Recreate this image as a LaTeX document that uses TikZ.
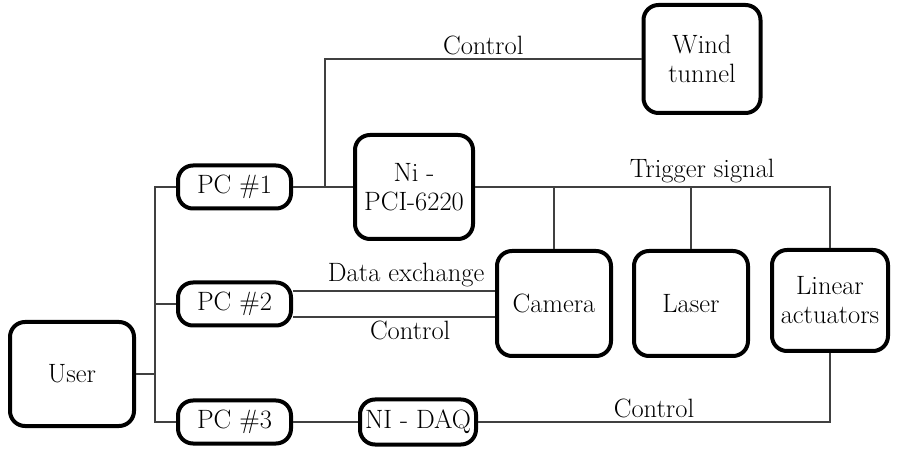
\documentclass[tikz,border=0pt]{standalone}
\usepackage{fontspec}
\usetikzlibrary{positioning, calc}

\tikzset{
  blk/.style={draw, line width=4pt, rounded corners=15pt, align=center,
    font=\fontsize{26.5}{29}\selectfont, minimum width=114pt, minimum height=105pt},
  pcblk/.style={blk, minimum width=113pt, minimum height=43pt},
  wire/.style={draw=black!75, line width=1.1pt},
  lbl/.style={font=\fontsize{26.5}{29}\selectfont}
}

\begin{document}
\begin{tikzpicture}[x=1pt, y=-1pt]
  \useasboundingbox (0,0) rectangle (898,449);

  \node[blk, minimum width=124pt, minimum height=104pt] (user) at (72,374) {User};
  \node[pcblk] (pc1) at (234.5,187) {PC \#1};
  \node[pcblk] (pc2) at (234.5,304) {PC \#2};
  \node[pcblk] (pc3) at (234.5,422) {PC \#3};
  \node[blk, minimum width=118pt, minimum height=104pt] (ni) at (414,187) {Ni -\\PCI-6220};
  \node[pcblk, minimum width=116pt, minimum height=45pt] (daq) at (418,422) {NI - DAQ};
  \node[blk, minimum width=117pt, minimum height=108pt] (wind) at (702,59) {Wind\\tunnel};
  \node[blk] (cam) at (554,303.5) {Camera};
  \node[blk] (laser) at (691,303.5) {Laser};
  \node[blk, minimum width=116pt, minimum height=101pt] (lin) at (830,300.5) {Linear\\actuators};

  \coordinate (bus) at (155,374);
  \coordinate (tap) at (325,187);

  \draw[wire] (user) -- (bus);
  \draw[wire] (pc1.west) -| (bus) |- (pc3.west);
  \draw[wire] (pc2.west) -- (pc2.west -| bus);
  \draw[wire] (pc1) -- (ni);
  \draw[wire] (tap) |- node[lbl, pos=0.75, above] {Control} (wind);
  \draw[wire] (ni.east) -- node[lbl, pos=0.64, above] {Trigger signal} (ni.east -| lin.north) -- (lin.north);
  \draw[wire] (cam.north) -- (cam.north |- ni.east);
  \draw[wire] (laser.north) -- (laser.north |- ni.east);
  \draw[wire] ([yshift=13pt]pc2.east) -- node[lbl, pos=0.56, above] {Data exchange} ([yshift=13pt]pc2.east -| cam.west);
  \draw[wire] ([yshift=-13pt]pc2.east) -- node[lbl, pos=0.58, below] {Control} ([yshift=-13pt]pc2.east -| cam.west);
  \draw[wire] (pc3) -- (daq);
  \draw[wire] (daq) -| node[lbl, pos=0.25, above] {Control} (lin);
\end{tikzpicture}
\end{document}
